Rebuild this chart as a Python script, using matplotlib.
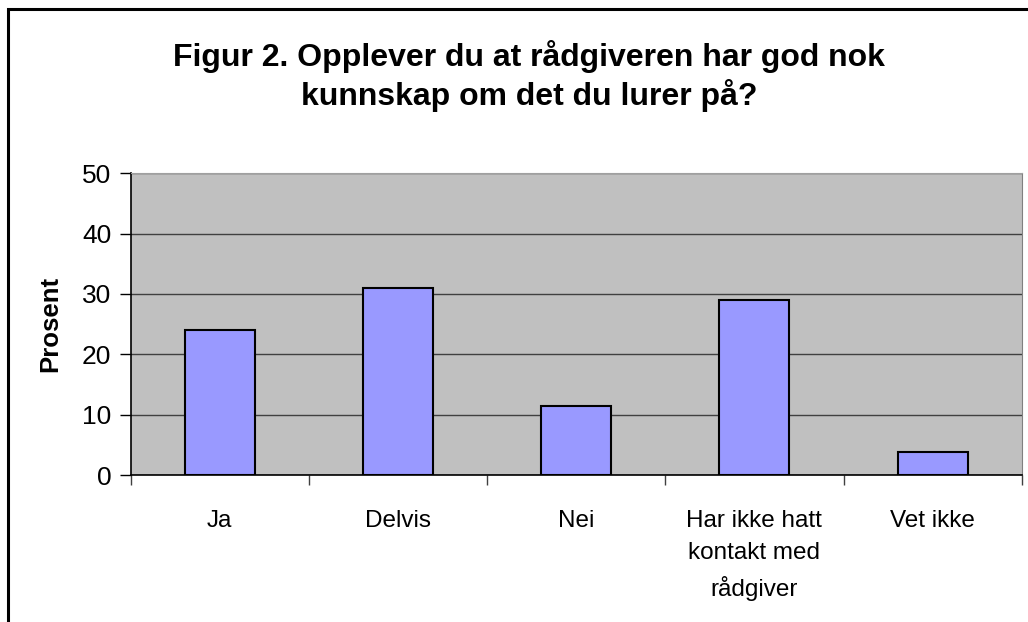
import numpy as np
import matplotlib.pyplot as plt
from matplotlib.patches import Rectangle

categories = ['Ja', 'Delvis', 'Nei', 'Har ikke hatt\nkontakt med\nrådgiver', 'Vet ikke']
prosent = [24, 31, 11.5, 29, 3.8]
y_ticks = [0, 10, 20, 30, 40, 50]

plt.rcParams['font.family'] = ['Liberation Sans', 'DejaVu Sans']

fig = plt.figure(figsize=(10.28, 6.22), dpi=100)
fig.patches.append(Rectangle((8 / 1028, -0.1), 1.2, 1 - 9 / 622 + 0.1,
                             transform=fig.transFigure, fill=False,
                             edgecolor='black', linewidth=2.2))

ax = fig.add_axes([0.1271, 0.2363, 0.8668, 0.4851])
ax.set_facecolor('#C0C0C0')

x = np.arange(len(categories))
ax.bar(x, prosent, width=0.393, color='#9999FF', edgecolor='black',
       linewidth=1.5, zorder=3)

ax.set_xlim(-0.5, len(categories) - 0.5)
ax.set_ylim(0, 50)
ax.set_yticks(y_ticks)
ax.yaxis.grid(True, color='#404040', linewidth=1.0, zorder=1)
ax.set_axisbelow(True)

ax.set_xticks(np.arange(len(categories) + 1) - 0.5)
ax.set_xticklabels([])
ax.set_xticks(x, minor=True)
ax.set_xticklabels(categories, minor=True, fontsize=17.5, linespacing=1.6,
                   va='top')
ax.tick_params(axis='x', which='minor', length=0, pad=25)
ax.tick_params(axis='x', which='major', length=7, width=1, color='#404040')
ax.tick_params(axis='y', length=8, width=1, labelsize=19, pad=6)

ax.spines['left'].set_color('black')
ax.spines['bottom'].set_color('black')
ax.spines['left'].set_linewidth(1.2)
ax.spines['bottom'].set_linewidth(1.2)
ax.spines['right'].set_color('#808080')
ax.spines['top'].set_color('#A0A0A0')

ax.set_ylabel('Prosent', fontsize=18.5, fontweight='bold', labelpad=14)

fig.text(0.515, 0.878, 'Figur 2. Opplever du at rådgiveren har god nok\n'
         'kunnskap om det du lurer på?', ha='center', va='center',
         fontsize=23, fontweight='bold', linespacing=1.25)

fig.savefig('out.png', dpi=100)
